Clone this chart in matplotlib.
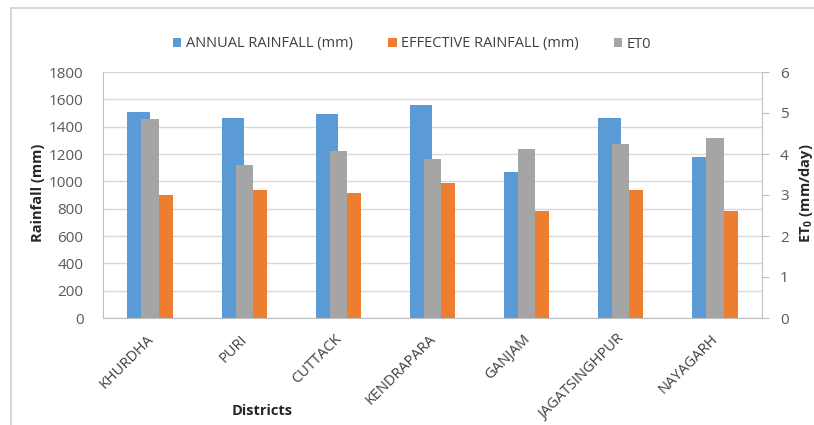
import matplotlib
matplotlib.use("Agg")
import matplotlib.pyplot as plt
import matplotlib.transforms as mtransforms
import numpy as np
from matplotlib.patches import Rectangle

districts = ["KHURDHA", "PURI", "CUTTACK", "KENDRAPARA", "GANJAM", "JAGATSINGHPUR", "NAYAGARH"]
annual_rainfall = [1505, 1463, 1492, 1558, 1070, 1463, 1178]
effective_rainfall = [902, 934, 914, 985, 783, 934, 783]
et0 = [4.85, 3.74, 4.08, 3.89, 4.12, 4.24, 4.38]

plt.rcParams['font.family'] = ['Open Sans', 'DejaVu Sans']

W, H = 814, 425
fig = plt.figure(figsize=(W/100, H/100), dpi=100)
fig.patch.set_facecolor('white')

# chart border
fig.patches.append(Rectangle((11/W, -0.1), 1.2, 1 - 8/H + 0.1, transform=fig.transFigure,
                             fill=False, edgecolor='#D0D0D0', linewidth=1.2, figure=fig))

left, right, top, bottom = 103, 762, 72, 318
ax = fig.add_axes([left/W, 1 - bottom/H, (right-left)/W, (bottom-top)/H])
ax2 = ax.twinx()

x = np.arange(len(districts))
blue, orange, gray = '#5B9BD5', '#ED7D31', '#A5A5A5'
tc = '#595959'

b1 = ax.bar(x - 0.12, annual_rainfall, width=0.24, color=blue, label='ANNUAL RAINFALL (mm)', zorder=2)
b2 = ax.bar(x + 0.12, effective_rainfall, width=0.24, color=orange, label='EFFECTIVE RAINFALL (mm)', zorder=2)
b3 = ax2.bar(x, et0, width=0.185, color=gray, label='ET0', zorder=2)

ax.set_xlim(-0.5, len(districts) - 0.5)
ax.set_ylim(0, 1800)
ax.set_yticks(np.arange(0, 1801, 200))
ax2.set_ylim(0, 6)
ax2.set_yticks(np.arange(0, 7, 1))

ax.grid(axis='y', color='#D9D9D9', linewidth=1.0, zorder=0)
ax.set_axisbelow(True)

for a in (ax, ax2):
    for s in a.spines.values():
        s.set_visible(False)
ax.spines['left'].set_visible(True)
ax.spines['left'].set_color('#BFBFBF')
ax.spines['bottom'].set_visible(True)
ax.spines['bottom'].set_color('#BFBFBF')
ax2.spines['right'].set_visible(True)
ax2.spines['right'].set_color('#BFBFBF')

ax.tick_params(axis='y', length=0, labelsize=11, labelcolor=tc, pad=14)
ax2.tick_params(axis='y', length=5, color='#BFBFBF', labelsize=11, labelcolor=tc, pad=8)
ax.tick_params(axis='x', length=0, pad=10)
ax.set_xticks(x)
ax.set_xticklabels(districts, rotation=45, ha='right', rotation_mode='anchor',
                   fontsize=10.5, color='#404040')
offset = mtransforms.ScaledTranslation(-4/100, 0, fig.dpi_scale_trans)
for lbl in ax.get_xticklabels():
    lbl.set_transform(lbl.get_transform() + offset)

fig.text(38/W, 1 - 193/H, 'Rainfall (mm)', rotation=90, ha='center', va='center',
         fontsize=10.5, fontweight='bold', color='#262626')
fig.text(806/W, 1 - 193/H, r'ET$_\mathregular{0}$ (mm/day)', rotation=90, ha='center', va='center',
         fontsize=10.5, fontweight='bold', color='#262626')
fig.text(262/W, 1 - 411/H, 'Districts', ha='center', va='center',
         fontsize=10.5, fontweight='bold', color='#262626')

leg = fig.legend(handles=[b1, b2, b3], labels=['ANNUAL RAINFALL (mm)', 'EFFECTIVE RAINFALL (mm)', 'ET0'],
                 loc='center', bbox_to_anchor=(412/W, 1 - 44/H), ncol=3, frameon=False,
                 handlelength=0.6, handleheight=0.6, handletextpad=0.3, columnspacing=2.4,
                 fontsize=10.5)
for t in leg.get_texts():
    t.set_color('#404040')

fig.savefig('out.png', dpi=100, facecolor='white')
